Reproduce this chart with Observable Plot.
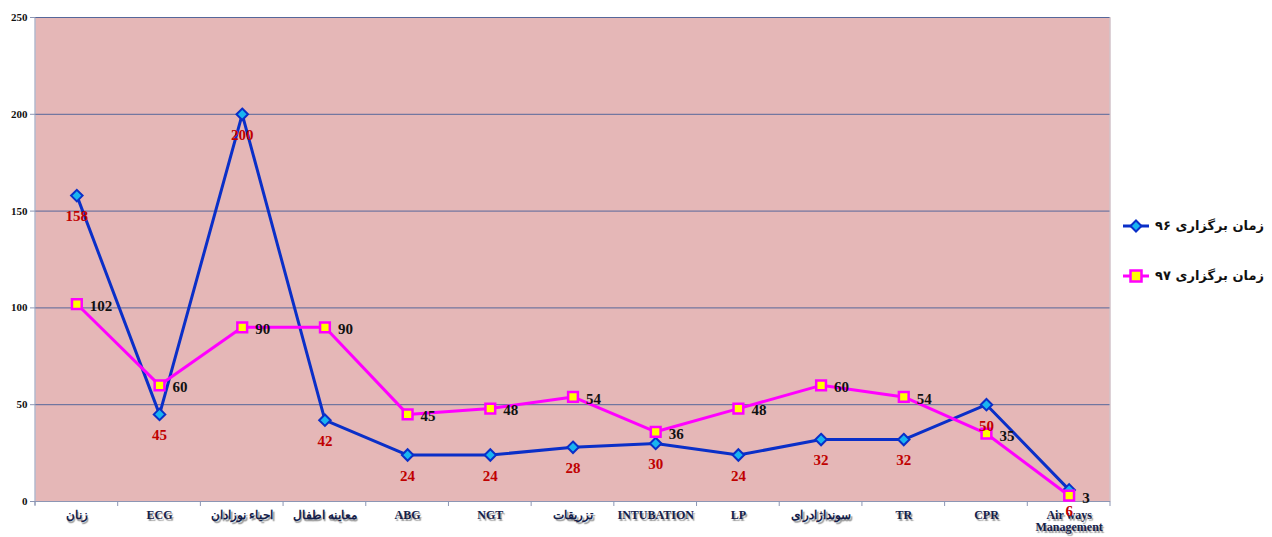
<!DOCTYPE html>
<html><head><meta charset="utf-8">
<script src="https://cdn.jsdelivr.net/npm/d3@7"></script>
<script src="https://cdn.jsdelivr.net/npm/@observablehq/plot@0.6"></script>
<style>
body{margin:0;background:#fff;}
#wrap{position:relative;width:1272px;height:537px;}
.xlab text{ text-shadow: 1.5px 1.5px 1px #9a9a9a; }
.legend{position:absolute;right:8px;display:flex;align-items:center;gap:5px;font-family:"DejaVu Sans",sans-serif;font-weight:bold;font-size:13px;color:#111;}
</style></head><body><div id="wrap"></div>
<script>
const categories = ["زنان","ECG","احیاء نوزادان","معاینه اطفال","ABG","NGT","تزریقات","INTUBATION","LP","سونداژادرای","TR","CPR","Air ways Management"];
const series96 = [158,45,200,42,24,24,28,30,24,32,32,50,6];
const series97 = [102,60,90,90,45,48,54,36,48,60,54,35,3];
const seriesNames = ["زمان برگزاری ۹۶","زمان برگزاری ۹۷"];
const yTicks = [0,50,100,150,200,250];

const d96 = categories.map((c,i)=>({cat:c, v:series96[i]}));
const d97 = categories.map((c,i)=>({cat:c, v:series97[i]}));

const blue = "#0A2FC8", cyan = "#19B4F0", mag = "#FF00FF", yel = "#FFFF00";
const serif = "'Liberation Serif','Times New Roman',serif";

const squareDiamond = {
  draw(ctx, size) {
    const r = Math.sqrt(size / Math.PI) * 1.15;
    ctx.moveTo(0, -r); ctx.lineTo(r, 0); ctx.lineTo(0, r); ctx.lineTo(-r, 0); ctx.closePath();
  }
};

const plot = Plot.plot({
  width: 1272, height: 537,
  marginLeft: 35, marginRight: 162, marginTop: 17, marginBottom: 36,
  style: {background: "transparent", overflow: "visible"},
  x: {type: "band", domain: categories, padding: 0, round: false},
  y: {domain: [0, 250]},
  marks: [
    Plot.frame({fill: "#E5B7B7", stroke: null}),
    Plot.gridY(yTicks.filter(v => v > 0), {stroke: "#56679A", strokeOpacity: 1, strokeWidth: 1}),
    Plot.ruleY([0], {stroke: "#8C96B4", strokeWidth: 1}),
    Plot.axisY({ticks: yTicks, tickSize: 5, tickPadding: 3, stroke: "#8C96B4", fill: "#111",
      fontWeight: "bold", fontSize: 11, fontFamily: serif, label: null}),
    Plot.axisX({tickSize: 0, tickPadding: 9, fill: "#14204A", fontWeight: "bold", fontSize: 12,
      fontFamily: serif, label: null, className: "xlab",
      tickFormat: d => d === "Air ways Management" ? "Air ways\nManagement" : d}),
    Plot.line(d96, {x: "cat", y: "v", stroke: blue, strokeWidth: 3}),
    Plot.dot(d96, {x: "cat", y: "v", symbol: squareDiamond, r: 5, fill: cyan, stroke: blue, strokeWidth: 2}),
    Plot.line(d97, {x: "cat", y: "v", stroke: mag, strokeWidth: 3}),
    Plot.dot(d97, {x: "cat", y: "v", symbol: "square", r: 5.5, fill: yel, stroke: mag, strokeWidth: 2.5}),
    Plot.text(d96, {x: "cat", y: "v", text: d => String(d.v), dy: 21, fill: "#C00000",
      fontWeight: "bold", fontSize: 15, fontFamily: serif}),
    Plot.text(d97, {x: "cat", y: "v", text: d => String(d.v), dx: 13, dy: 2, textAnchor: "start", fill: "#111",
      fontWeight: "bold", fontSize: 15, fontFamily: serif})
  ]
});

// band-edge tick marks and axis border lines, positioned from the plot's own x scale
const xs = plot.scale("x");
const svg = d3.select(plot);
const [x0, x1] = xs.range;
const y0 = 537 - 36, yTop = 17;
const g = svg.append("g");
g.append("line").attr("x1", x0).attr("x2", x0).attr("y1", yTop).attr("y2", y0 + 4).attr("stroke", "#8C96B4");
g.append("line").attr("x1", x1).attr("x2", x1).attr("y1", yTop).attr("y2", y0).attr("stroke", "#C8C8D2");
for (let i = 0; i <= categories.length; i++) {
  const x = x0 + i * xs.step;
  g.append("line").attr("x1", x).attr("x2", x).attr("y1", y0).attr("y2", y0 + 5).attr("stroke", "#8C96B4");
}

const wrap = document.getElementById("wrap");
wrap.appendChild(plot);

function legendItem(top, name, kind) {
  const div = document.createElement("div");
  div.className = "legend";
  div.style.top = (top - 10) + "px";
  const sw = kind === 0
    ? `<svg width="28" height="14"><line x1="1" x2="27" y1="7" y2="7" stroke="${blue}" stroke-width="3"/><path d="M14 1.5 L19.5 7 L14 12.5 L8.5 7Z" fill="${cyan}" stroke="${blue}" stroke-width="2"/></svg>`
    : `<svg width="28" height="14"><line x1="1" x2="27" y1="7" y2="7" stroke="${mag}" stroke-width="3"/><rect x="8.5" y="1.5" width="11" height="11" fill="${yel}" stroke="${mag}" stroke-width="2.5"/></svg>`;
  div.innerHTML = sw + `<span dir="rtl">${name}</span>`;
  wrap.appendChild(div);
}
legendItem(228, seriesNames[0], 0);
legendItem(278, seriesNames[1], 1);
</script>
</body></html>
